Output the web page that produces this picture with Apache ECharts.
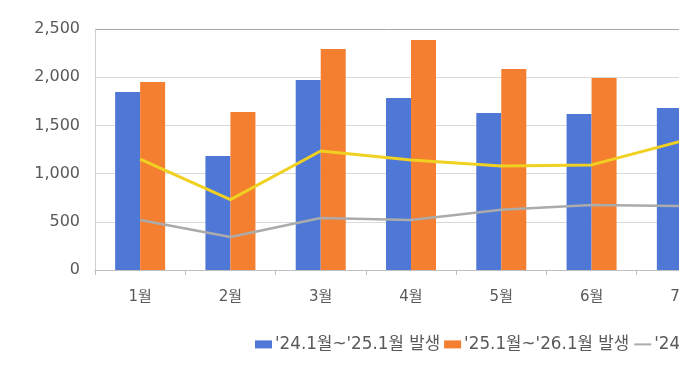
<!DOCTYPE html>
<html>
<head>
<meta charset="utf-8">
<style>
html,body{margin:0;padding:0;background:#fff;}
#chart{width:679px;height:382px;}
</style>
<script src="https://cdn.jsdelivr.net/npm/echarts@6/dist/echarts.min.js"></script>
</head>
<body>
<div id="chart"></div>
<script>
var categories = ['1월','2월','3월','4월','5월','6월','7월'];
var yTicks = [0, 500, 1000, 1500, 2000, 2500];
var seriesNames = ["'24.1월~'25.1월 발생", "'25.1월~'26.1월 발생", "'24.1월~'25.1월 검거", "'25.1월~'26.1월 검거"];
var occur2425 = [1846, 1183, 1971, 1784, 1629, 1618, 1680];
var occur2526 = [1950, 1639, 2293, 2386, 2085, 1992, null];
var arrest2425 = [519, 342, 539, 519, 625, 674, 664];
var arrest2526 = [1151, 730, 1234, 1141, 1079, 1090, 1338];

var font = "'DejaVu Sans', 'Noto Sans CJK KR', sans-serif";
var chart = echarts.init(document.getElementById('chart'));
chart.setOption({
  animation: false,
  textStyle: {fontFamily: font},
  legend: {
    left: 250, top: 331, width: 1200,
    itemWidth: 17, itemHeight: 8, itemGap: 4,
    textStyle: {color: '#595959', fontSize: 16.8, fontFamily: font, padding: [0,0,0,-2]},
    data: [
      {name: seriesNames[0], icon: 'rect'},
      {name: seriesNames[1], icon: 'rect'},
      {name: seriesNames[2], itemStyle: {opacity: 0}},
      {name: seriesNames[3], itemStyle: {opacity: 0}}
    ]
  },
  grid: {left: 95, width: 632, top: 29, bottom: 112, containLabel: false, outerBoundsMode: 'none'},
  xAxis: {
    type: 'category',
    data: categories,
    axisLine: {show: true, lineStyle: {color: '#bfbfbf', width: 1}},
    axisTick: {show: true, length: 5, lineStyle: {color: '#bfbfbf'}},
    axisLabel: {color: '#595959', fontSize: 15, margin: 20, fontFamily: font}
  },
  yAxis: {
    type: 'value',
    min: yTicks[0], max: yTicks[yTicks.length-1], interval: 500,
    axisLine: {show: true, lineStyle: {color: '#d0d0d0'}},
    axisTick: {show: false},
    axisLabel: {
      color: '#595959', fontSize: 16, margin: 15, fontFamily: font,
      formatter: function(v){ return v.toLocaleString('en-US'); }
    },
    splitLine: {show: true, lineStyle: {color: ['#d9d9d9','#d9d9d9','#d9d9d9','#d9d9d9','#d9d9d9','#a6a6a6'], width: 1}}
  },
  series: [
    {name: seriesNames[0], type: 'bar', data: occur2425, barWidth: 25, barGap: '0%', itemStyle: {color: '#4F78D6'}},
    {name: seriesNames[1], type: 'bar', data: occur2526, barWidth: 25, barGap: '0%', itemStyle: {color: '#F47F30'}},
    {name: seriesNames[2], type: 'line', data: arrest2425, symbol: 'none', lineStyle: {color: '#ABABAB', width: 2.5}, itemStyle: {color: '#ABABAB'}},
    {name: seriesNames[3], type: 'line', data: arrest2526, symbol: 'none', lineStyle: {color: '#F0D020', width: 3}, itemStyle: {color: '#F0D020'}}
  ]
});
</script>
</body>
</html>
